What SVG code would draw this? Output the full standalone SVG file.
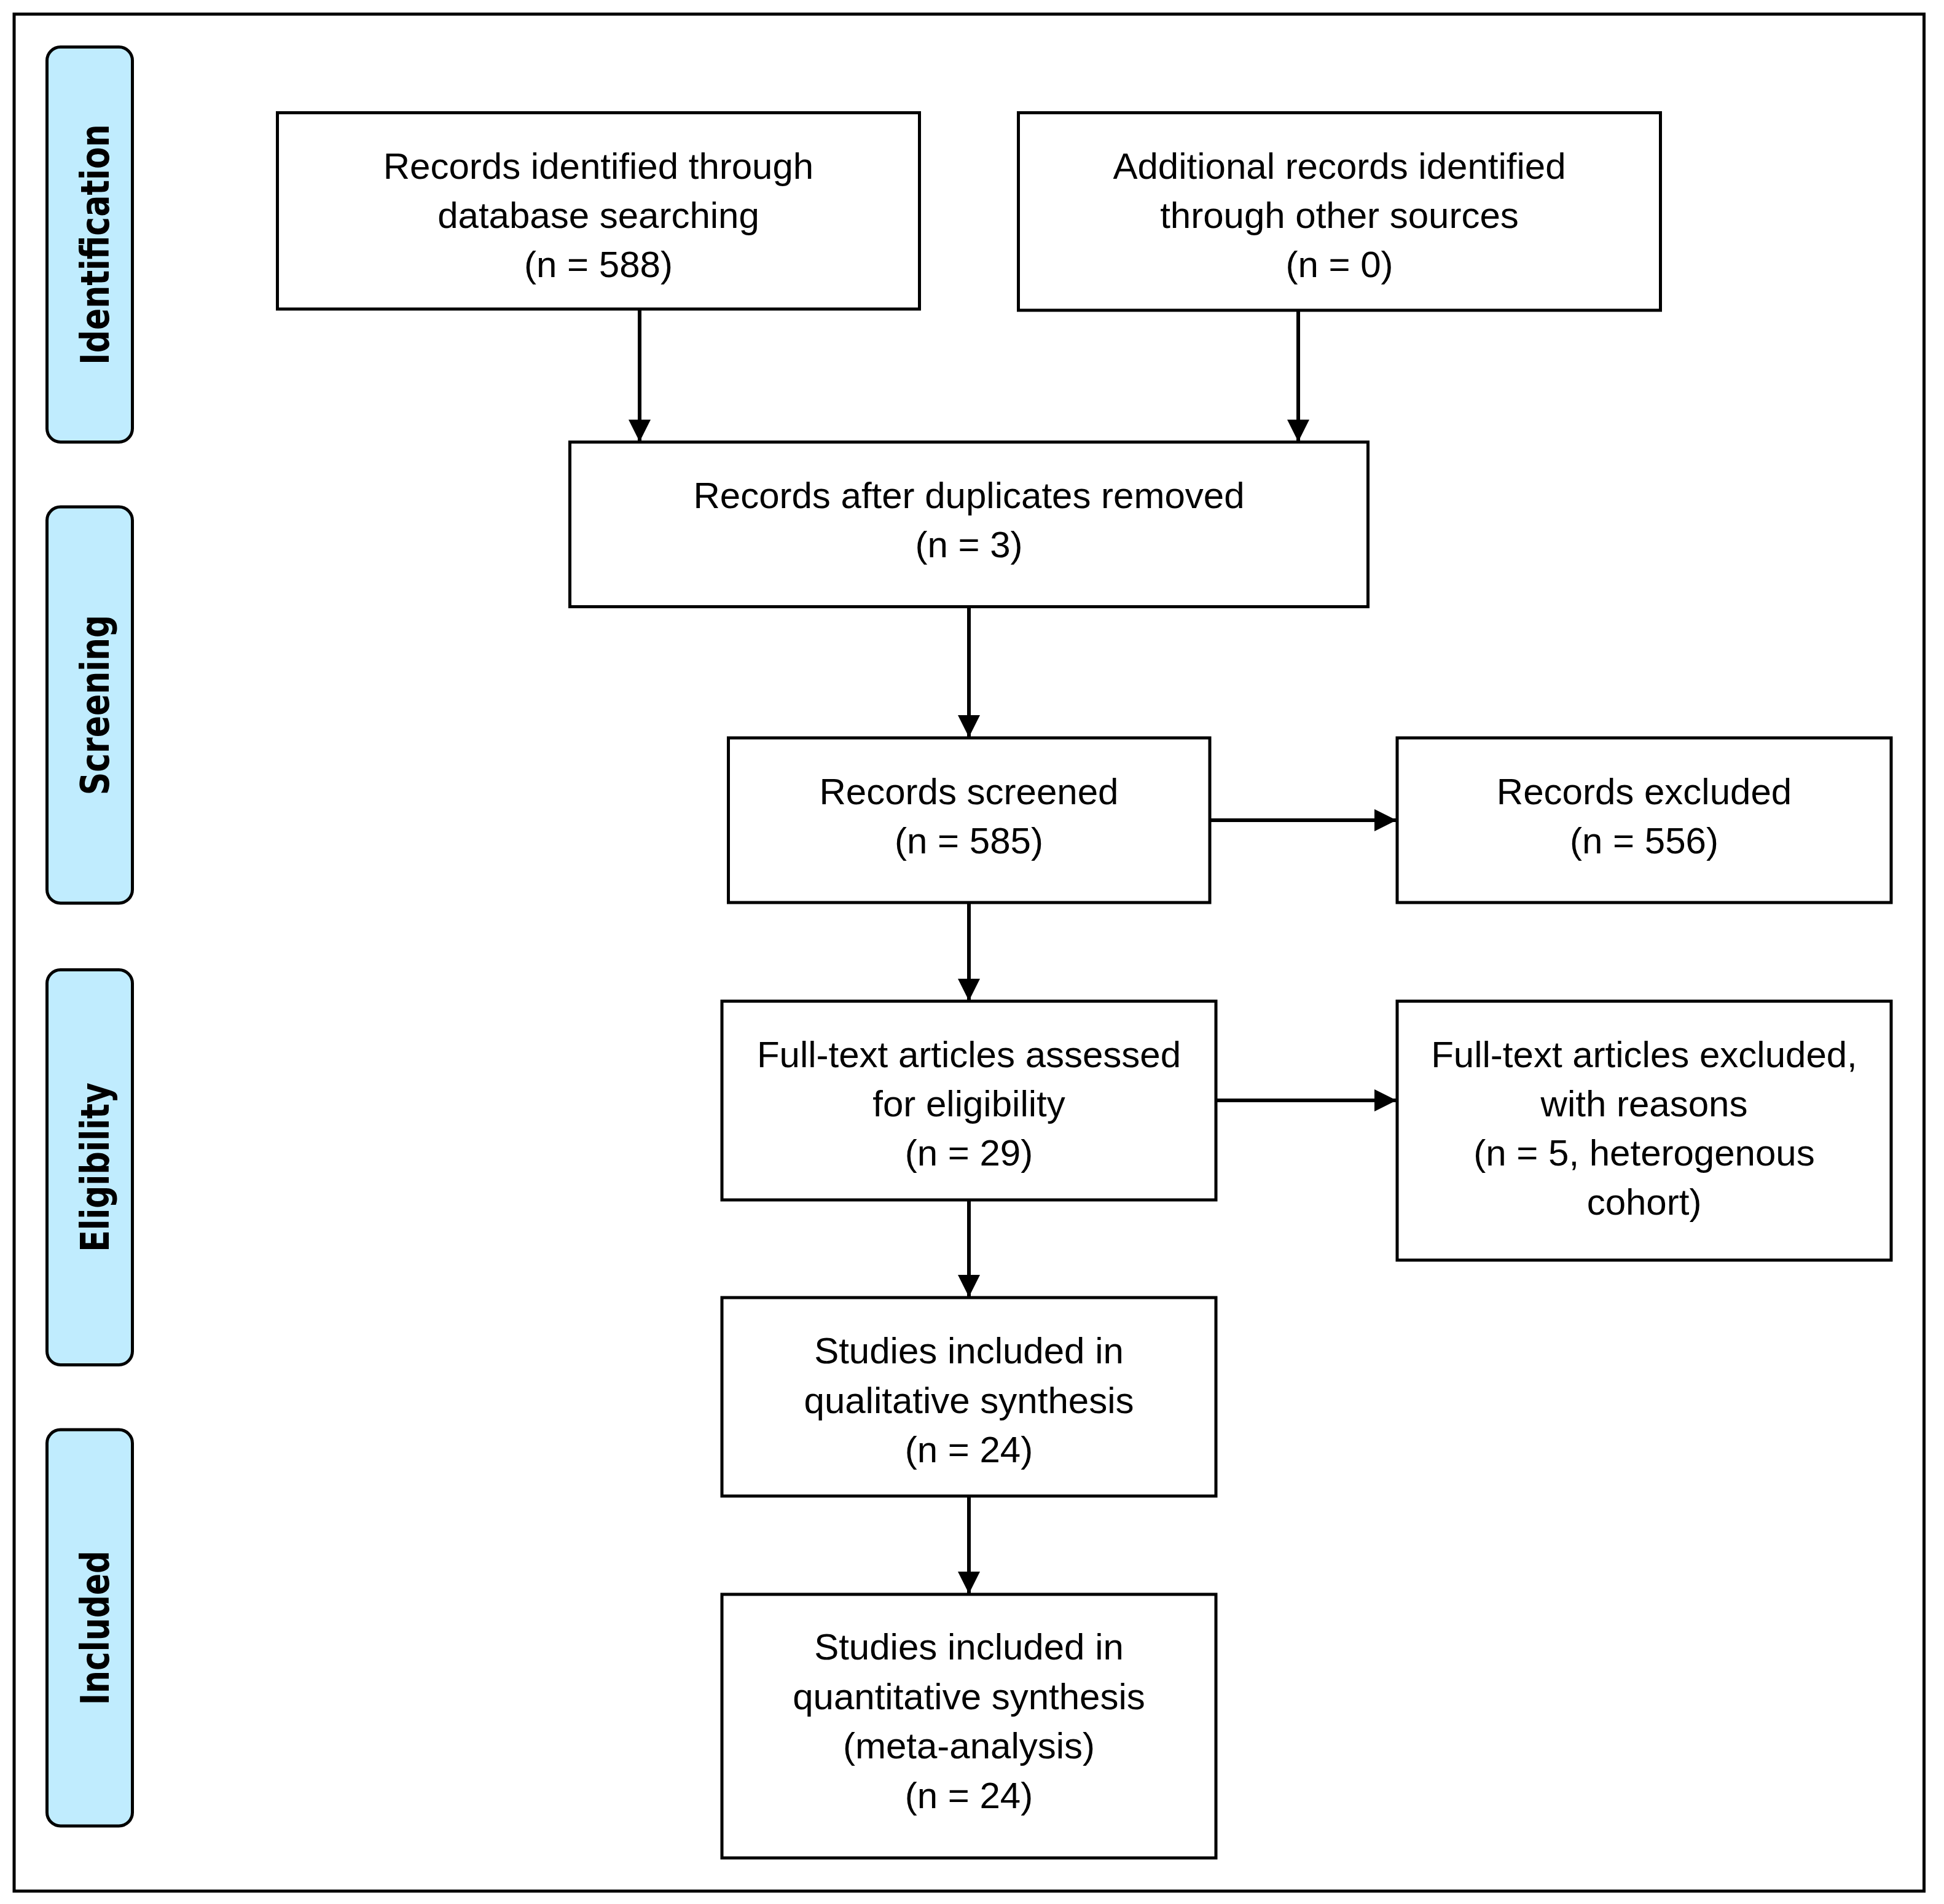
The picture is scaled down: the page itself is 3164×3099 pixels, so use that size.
<svg xmlns="http://www.w3.org/2000/svg" width="3164" height="3099" viewBox="0 0 3164 3099">
  <defs>
    <marker id="arr" markerUnits="userSpaceOnUse" markerWidth="36" markerHeight="36" viewBox="0 0 36 36" refX="35" refY="18" orient="auto">
      <path d="M0,0 L36,18 L0,36 z" fill="#000"/>
    </marker>
  </defs>
  <style>
    .frame { fill: #fff; stroke: #000; stroke-width: 5; }
    .box { fill: #fff; stroke: #000; stroke-width: 5; }
    .pill { fill: #C0ECFE; stroke: #000; stroke-width: 5; }
    .t { font-family: "Liberation Sans", Arial, sans-serif; font-size: 60px; fill: #000; text-anchor: middle; }
    .pt { font-family: "DejaVu Sans", Verdana, sans-serif; font-weight: bold; font-size: 52px; fill: #000; text-anchor: middle; }
    .con { stroke: #000; stroke-width: 6; fill: none; marker-end: url(#arr); }
  </style>
  <rect x="0" y="0" width="3164" height="3099" fill="#fff"/>
  <rect class="frame" x="23" y="23" width="3108.5" height="3055"/>

  <g id="stage-identification">
    <rect class="pill" x="76.5" y="76.5" width="139" height="643" rx="22"/>
    <text class="pt" transform="translate(177,398) rotate(-90) scale(1,1.23)">Identification</text>
  </g>
  <g id="stage-screening">
    <rect class="pill" x="76.5" y="825" width="139" height="645" rx="22"/>
    <text class="pt" transform="translate(177,1147.5) rotate(-90) scale(1,1.23)">Screening</text>
  </g>
  <g id="stage-eligibility">
    <rect class="pill" x="76.5" y="1578.5" width="139" height="643" rx="22"/>
    <text class="pt" transform="translate(177,1900) rotate(-90) scale(1,1.23)">Eligibility</text>
  </g>
  <g id="stage-included">
    <rect class="pill" x="76.5" y="2327" width="139" height="645" rx="22"/>
    <text class="pt" transform="translate(177,2649.5) rotate(-90) scale(1,1.23)">Included</text>
  </g>

  <g id="connectors">
    <line class="con" x1="1041" y1="503" x2="1041" y2="718"/>
    <line class="con" x1="2113" y1="505" x2="2113" y2="718"/>
    <line class="con" x1="1577" y1="987.5" x2="1577" y2="1199"/>
    <line class="con" x1="1577" y1="1469" x2="1577" y2="1628"/>
    <line class="con" x1="1577" y1="1953" x2="1577" y2="2110"/>
    <line class="con" x1="1577" y1="2435" x2="1577" y2="2593"/>
    <line class="con" x1="1969" y1="1335" x2="2272" y2="1335"/>
    <line class="con" x1="1979" y1="1791" x2="2272" y2="1791"/>
  </g>

  <g id="records-database">
    <rect class="box" x="451.5" y="183.5" width="1045" height="319.5"/>
    <text class="t" x="974" y="290.7">Records identified through</text>
    <text class="t" x="974" y="370.7">database searching</text>
    <text class="t" x="974" y="450.7">(n = 588)</text>
  </g>
  <g id="records-other">
    <rect class="box" x="1657.5" y="183.5" width="1045" height="321.5"/>
    <text class="t" x="2180" y="290.7">Additional records identified</text>
    <text class="t" x="2180" y="370.7">through other sources</text>
    <text class="t" x="2180" y="450.7">(n = 0)</text>
  </g>
  <g id="records-dedup">
    <rect class="box" x="927.5" y="719.5" width="1299" height="268"/>
    <text class="t" x="1577" y="827">Records after duplicates removed</text>
    <text class="t" x="1577" y="907">(n = 3)</text>
  </g>
  <g id="records-screened">
    <rect class="box" x="1185.5" y="1201" width="783.5" height="268"/>
    <text class="t" x="1577" y="1308.5">Records screened</text>
    <text class="t" x="1577" y="1389">(n = 585)</text>
  </g>
  <g id="records-excluded">
    <rect class="box" x="2274" y="1201" width="804" height="268"/>
    <text class="t" x="2676" y="1308.5">Records excluded</text>
    <text class="t" x="2676" y="1389">(n = 556)</text>
  </g>
  <g id="fulltext-assessed">
    <rect class="box" x="1175" y="1629.5" width="804" height="323.5"/>
    <text class="t" x="1577" y="1737">Full-text articles assessed</text>
    <text class="t" x="1577" y="1817">for eligibility</text>
    <text class="t" x="1577" y="1897">(n = 29)</text>
  </g>
  <g id="fulltext-excluded">
    <rect class="box" x="2274" y="1629.5" width="804" height="421.5"/>
    <text class="t" x="2676" y="1737">Full-text articles excluded,</text>
    <text class="t" x="2676" y="1817">with reasons</text>
    <text class="t" x="2676" y="1897">(n = 5, heterogenous</text>
    <text class="t" x="2676" y="1977">cohort)</text>
  </g>
  <g id="qualitative">
    <rect class="box" x="1175" y="2112" width="804" height="323"/>
    <text class="t" x="1577" y="2219">Studies included in</text>
    <text class="t" x="1577" y="2299.5">qualitative synthesis</text>
    <text class="t" x="1577" y="2380">(n = 24)</text>
  </g>
  <g id="quantitative">
    <rect class="box" x="1175" y="2595" width="804" height="429"/>
    <text class="t" x="1577" y="2701">Studies included in</text>
    <text class="t" x="1577" y="2782">quantitative synthesis</text>
    <text class="t" x="1577" y="2862">(meta-analysis)</text>
    <text class="t" x="1577" y="2943">(n = 24)</text>
  </g>
</svg>
